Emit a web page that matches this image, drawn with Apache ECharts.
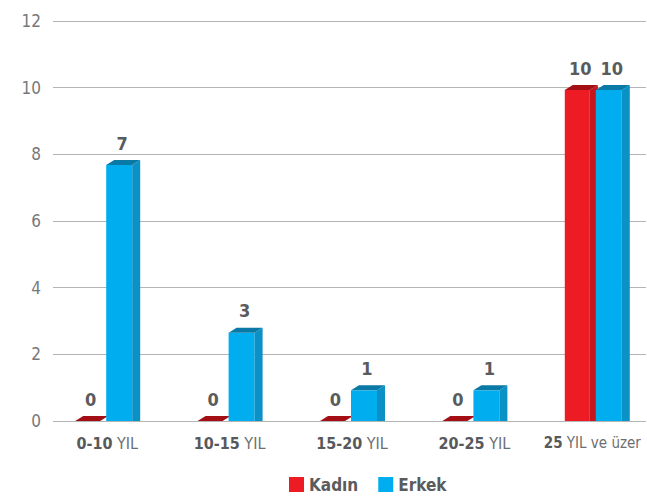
<!DOCTYPE html>
<html>
<head>
<meta charset="utf-8">
<script src="https://cdn.jsdelivr.net/npm/echarts@6/dist/echarts.min.js"></script>
<style>html,body{margin:0;padding:0;background:#fff;}#c{width:647px;height:501px;}</style>
</head>
<body>
<div id="c"></div>
<script>
var categories = ['0-10 YIL', '10-15 YIL', '15-20 YIL', '20-25 YIL', '25 YIL ve üzer'];
var kadinValues = [0, 0, 0, 0, 9.93];
var erkekValues = [7.68, 2.65, 0.92, 0.92, 9.93];
var kadinLabels = ['0', '0', '0', '0', '10'];
var erkekLabels = ['7', '3', '1', '1', '10'];
var yTicks = [0, 2, 4, 6, 8, 10, 12];

var FONT = "'Liberation Sans Narrow', 'DejaVu Sans Condensed', sans-serif";
var styles = [
  { name: 'Kadın', front: '#ed1c24', side: '#c3161d', top: '#a30f15', offset: -32, width: 25, labels: kadinLabels },
  { name: 'Erkek', front: '#00aeef', side: '#0a91c6', top: '#0b79a6', offset: -1, width: 26, labels: erkekLabels }
];
var DX = 8, DY = 5;

function makeRender(s) {
  var st = styles[s];
  return function (params, api) {
    var i = api.value(0), v = api.value(1);
    var base = api.coord([i, 0]);
    var top = api.coord([i, v]);
    var c = base[0], yb = base[1], yt = top[1];
    var x0 = c + st.offset, x1 = x0 + st.width;
    var children = [];
    if (yb - yt > 0.5) {
      children.push({ type: 'polygon', shape: { points: [[x0, yt], [x1, yt], [x1, yb], [x0, yb]] }, style: { fill: st.front } });
      children.push({ type: 'polygon', shape: { points: [[x1, yt], [x1 + DX, yt - DY], [x1 + DX, yb], [x1, yb]] }, style: { fill: st.side } });
    }
    children.push({ type: 'polygon', shape: { points: [[x0, yt], [x1, yt], [x1 + DX, yt - DY], [x0 + DX, yt - DY]] }, style: { fill: st.top } });
    children.push({ type: 'text', style: { text: st.labels[params.dataIndex], x: (x0 + x1) / 2 + 3, y: yt - 22, align: 'center', verticalAlign: 'middle', fill: '#5a5b5d', font: 'bold 18px ' + FONT } });
    return { type: 'group', children: children };
  };
}

var chart = echarts.init(document.getElementById('c'), null, { renderer: 'svg' });
chart.setOption({
  animation: false,
  backgroundColor: '#fff',
  color: ['#ed1c24', '#00aeef'],
  legend: {
    data: ['Kadın', 'Erkek'],
    left: 284, top: 471,
    icon: 'rect', itemWidth: 15, itemHeight: 15, itemGap: 20,
    textStyle: { fontFamily: FONT, fontWeight: 'bold', fontSize: 17, color: '#5a5b5d' }
  },
  grid: [
    { left: 53, right: 1, top: 21, bottom: 80, outerBoundsMode: 'none' },
    { left: 46, right: -11, top: 21, bottom: 80, outerBoundsMode: 'none' }
  ],
  xAxis: [
    { gridIndex: 0, type: 'value', show: false, min: 0, max: 1 },
    {
      gridIndex: 1, type: 'category', data: categories,
      axisLine: { show: false }, axisTick: { show: false },
      axisLabel: {
        interval: 0, margin: 14,
        formatter: function (v, idx) {
          var k = v.indexOf(' ');
          var sfx = idx === categories.length - 1 ? 's' : '';
          return '{b' + sfx + '|' + v.slice(0, k) + '}{n' + sfx + '|' + v.slice(k) + '}';
        },
        rich: {
          b: { fontFamily: FONT, fontWeight: 'bold', fontSize: 16, color: '#58595b' },
          n: { fontFamily: FONT, fontWeight: 'normal', fontSize: 16, color: '#6d6e70' },
          bs: { fontFamily: FONT, fontWeight: 'bold', fontSize: 15, color: '#58595b' },
          ns: { fontFamily: FONT, fontWeight: 'normal', fontSize: 15, color: '#6d6e70', padding: [0, 9, 0, 0] }
        }
      }
    }
  ],
  yAxis: [
    {
      gridIndex: 0, type: 'value', min: yTicks[0], max: yTicks[yTicks.length - 1], interval: 2,
      axisLine: { show: false }, axisTick: { show: false },
      axisLabel: { margin: 12, fontFamily: FONT, fontSize: 17, color: '#77787b' },
      splitLine: { show: true, lineStyle: { color: '#b5b5b5', width: 1 } }
    },
    { gridIndex: 1, type: 'value', min: 0, max: 12, show: false }
  ],
  series: [
    {
      name: 'Kadın', type: 'custom', xAxisIndex: 1, yAxisIndex: 1,
      itemStyle: { color: '#ed1c24' },
      renderItem: makeRender(0),
      data: kadinValues.map(function (v, i) { return [i, v]; })
    },
    {
      name: 'Erkek', type: 'custom', xAxisIndex: 1, yAxisIndex: 1,
      itemStyle: { color: '#00aeef' },
      renderItem: makeRender(1),
      data: erkekValues.map(function (v, i) { return [i, v]; })
    }
  ]
});
</script>
</body>
</html>
